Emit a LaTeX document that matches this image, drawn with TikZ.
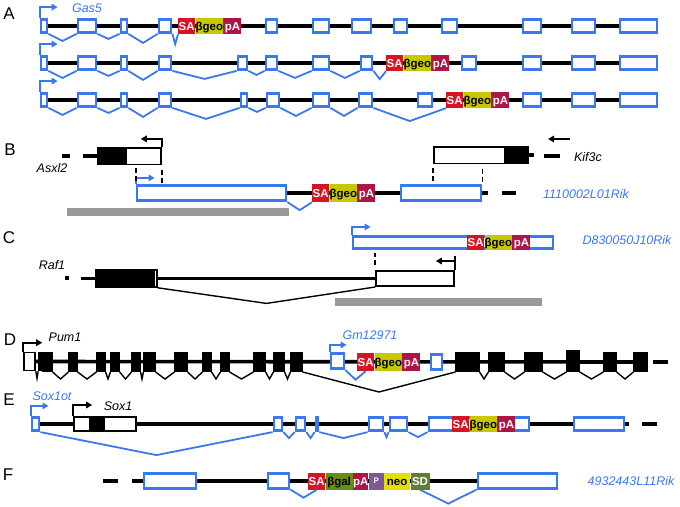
\documentclass[tikz,border=0pt]{standalone}
\usepackage{fontspec}
\setmainfont{Liberation Sans}
\usetikzlibrary{positioning,calc,arrows.meta,backgrounds}

\definecolor{gblue}{RGB}{59,120,240}
\definecolor{sared}{RGB}{215,20,35}
\definecolor{geoyel}{RGB}{200,200,0}
\definecolor{pacrim}{RGB}{175,20,70}
\definecolor{galgrn}{RGB}{105,140,20}
\definecolor{ppur}{RGB}{125,90,150}
\definecolor{neoyel}{RGB}{225,225,0}
\definecolor{sdgrn}{RGB}{100,125,50}
\definecolor{bargray}{RGB}{153,153,153}

\tikzset{
  bb/.style={line width=3.6pt, black},
  bex/.style={draw=gblue, line width=2.8pt, fill=white, inner sep=0pt, minimum height=13pt},
  kex/.style={draw=black, line width=1.2pt, fill=black, inner sep=0pt},
  wex/.style={draw=black, line width=1.6pt, fill=white, inner sep=0pt},
  splice/.style={gblue, line width=1.8pt},
  ksplice/.style={black, line width=1.4pt},
  prom/.style={gblue, line width=1.8pt, -{Triangle[length=6pt, width=6.5pt]}},
  kprom/.style={prom, black},
  mapline/.style={black, line width=1.8pt, dash pattern=on 5pt off 3pt},
  endbar/.style={fill=black, inner sep=0pt, minimum height=3.6pt},
  gbar/.style={fill=bargray, inner sep=0pt, minimum height=8pt},
  cas/.style={inner sep=0pt, minimum height=16pt, text=white, text height=8.2pt, text depth=0pt, font=\bfseries\fontsize{11.5}{12}\selectfont},
  sa/.style={cas, fill=sared, minimum width=17pt},
  geo/.style={cas, fill=geoyel, text=black, minimum width=27pt},
  pa/.style={cas, fill=pacrim, minimum width=18pt},
  gal/.style={cas, fill=galgrn, text=black, minimum width=27pt},
  pp/.style={cas, fill=ppur, minimum width=15pt, text height=5.8pt, font=\bfseries\fontsize{8}{8}\selectfont},
  neo/.style={cas, fill=neoyel, text=black, minimum width=26pt},
  sd/.style={cas, fill=sdgrn, minimum width=19pt},
  gname/.style={inner sep=0pt, font=\itshape\fontsize{12.5}{13}\selectfont},
  bname/.style={gname, text=gblue},
  panel/.style={inner sep=0pt, font=\fontsize{17}{17}\selectfont}
}

\newcommand{\exon}[5][bex]{\node[#1, minimum width={(#4)-(#3)-2}] (#2) at ({((#3)+(#4))/2},#5) {}}
\newcommand{\splice}[4][splice]{\draw[#1] (#2) -- ($(#2)!.5!(#3)+(0,#4)$) -- (#3)}
\newcommand{\sageo}[4][16pt]{%
  \node[sa, minimum height=#1, anchor=west] (#2-sa) at (#3,#4) {SA};
  \node[geo, minimum height=#1, right=0pt of #2-sa] (#2-geo) {βgeo};
  \node[pa, minimum height=#1, right=0pt of #2-geo] (#2-pa) {pA}}

\begin{document}
\begin{tikzpicture}[x=1pt, y=-1pt]
\useasboundingbox (0,0) rectangle (680,506);

\node[panel] (pA) at (9,14) {A};
\node[bname] (gas5) at (87,8) {Gas5};
\foreach \n/\xa/\xb in {1/40/48, 2/77/97, 3/120/128, 4/158/172, 5/265/278, 6/312/330, 7/351/372, 8/393/408, 9/441/458, 10/522/542, 11/571/596, 12/619/658}
  \exon{a1\n}{\xa}{\xb}{26};
\sageo{r1}{178}{26};
\foreach \i/\j/\d in {1/2/7, 2/3/5, 3/4/9}
  \splice{a1\i.south east}{a1\j.south west}{\d};
\splice{a14.south east}{r1-sa.south west}{10};
\draw[prom] (a11.north west) |- ++(18,-11);

\foreach \n/\xa/\xb in {1/40/48, 2/77/97, 3/120/128, 4/158/172, 5/237/248, 6/265/278, 7/312/330, 8/360/373, 9/461/477, 10/522/542, 11/571/596, 12/619/658}
  \exon{a2\n}{\xa}{\xb}{63};
\sageo{r2}{386}{63};
\foreach \i/\j/\d in {1/2/7, 2/3/5, 3/4/9, 4/5/8, 5/6/4, 6/7/7, 7/8/7}
  \splice{a2\i.south east}{a2\j.south west}{\d};
\splice{a28.south east}{r2-sa.south west}{8};
\draw[prom] (a21.north west) |- ++(18,-11);

\foreach \n/\xa/\xb in {1/40/48, 2/77/97, 3/120/128, 4/158/172, 5/240/248, 6/266/280, 7/312/330, 8/358/373, 9/417/433, 10/522/542, 11/571/596, 12/619/658}
  \exon{a3\n}{\xa}{\xb}{100};
\sageo{r3}{446}{100};
\foreach \i/\j/\d in {1/2/7, 2/3/5, 3/4/9, 4/5/11, 5/6/4, 6/7/8, 7/8/8}
  \splice{a3\i.south east}{a3\j.south west}{\d};
\splice{a38.south east}{r3-sa.south west}{13};
\draw[prom] (a31.north west) |- ++(18,-11);

\node[panel] (pB) at (10,150) {B};
\node[endbar, minimum width=8pt] (asxd) at (66,156) {};
\exon[kex, minimum height=17pt]{asxk}{97}{125}{156};
\exon[wex, minimum height=16.6pt]{asxw}{125}{162}{156};
\draw[kprom] (asxw.north east) |- ++(-21,-8);
\node[gname] (asxl2) at (52,168) {Asxl2};
\exon[bex, minimum height=15.4pt]{rika}{136}{287}{193};
\draw[prom] (rika.north west) |- ++(19,-6);
\sageo[18pt]{b}{312}{193};
\exon[bex, minimum height=15.4pt]{rikb}{400}{482}{193};
\node[endbar, minimum width=14pt] (rikd) at (509,193) {};
\splice{rika.south east}{b-sa.south west}{8};
\node[gbar, minimum width=222pt] (bbar) at (178,212) {};
\draw[mapline] (rika.north west) ++(0,-3) -- ++(0,-14);
\draw[mapline] (asxw.south east) ++(0,5) -- ++(0,13);
\exon[wex, minimum height=16.6pt]{kifw}{433}{506}{155};
\exon[kex, minimum height=17pt]{kifk}{506}{529}{155};
\node[endbar, minimum width=16pt] (kifd) at (552,156) {};
\coordinate (kifa) at (570,139);
\draw[kprom] (kifa) -- ++(-22,0);
\draw[mapline] (kifw.south west) ++(0,4) -- ++(0,14);
\draw[mapline] (rikb.north east) ++(0,-2) -- ++(0,-14);
\node[gname] (kif3c) at (588,157) {Kif3c};
\node[bname] (rik1) at (586,194) {1110002L01Rik};

\node[panel] (pC) at (9,238) {C};
\node[gname] (raf1) at (52,265) {Raf1};
\node[endbar, minimum width=3.6pt] (rafd) at (67,278) {};
\exon[kex, minimum height=17.6pt]{rafk}{95}{153}{278.5};
\exon[wex, minimum height=17pt]{rafn}{153}{158}{278.5};
\exon[wex, minimum height=15.4pt]{rafw}{375}{455}{278.5};
\draw[kprom] (rafw.north east) |- ++(-19,-9);
\splice[ksplice]{rafn.south east}{rafw.south west}{16};
\exon[bex, minimum height=12.4pt]{rikc}{352}{554}{242.5};
\draw[prom] (rikc.north west) |- ++(19,-8);
\sageo[15pt]{c}{467}{242.5};
\node[bname] (d8300) at (627,240) {D830050J10Rik};
\draw[mapline] (rafw.north west) ++(0,-5) -- ++(0,-12);
\draw[mapline] (rafw.north east) ++(0,-9) -- ++(0,-8);
\node[gbar, minimum width=207pt] (cbar) at (438.5,302) {};

\node[panel] (pD) at (10,340) {D};
\node[gname] (pum1) at (65,337) {Pum1};
\exon[wex, minimum height=18pt]{pw1}{23}{36}{361.5};
\exon[wex, minimum height=18pt]{pw2}{38}{42}{361.5};
\draw[kprom] (pw1.north west) |- ++(19,-9);
\foreach \n/\xa/\xb in {1/42/53, 2/68/78, 3/96/106, 4/110/120, 5/131/141, 6/143/156, 7/174/188, 8/202/212, 9/220/230, 10/253/266, 11/273/285, 12/290/303}
  \exon[kex, minimum height=18.8pt]{pk\n}{\xa}{\xb}{362};
\splice[ksplice]{pw1.south east}{pw2.south west}{7};
\foreach \i/\j in {1/2, 2/3, 3/4, 4/5, 5/6, 6/7, 7/8, 8/9, 9/10, 10/11, 11/12}
  \splice[ksplice]{pk\i.south east}{pk\j.south west}{7};
\exon[bex, minimum height=15.4pt]{gm1}{330}{345}{361};
\draw[prom] (gm1.north west) |- ++(17,-7);
\node[bname] (gm12971) at (370,335) {Gm12971};
\sageo[18pt]{d}{357}{362};
\splice{gm1.south east}{d-sa.south}{9};
\exon[bex, minimum height=15.4pt]{gm2}{430}{443}{362};
\foreach \n/\xa/\xb in {1/455/480, 2/488/505, 3/524/543, 5/603/617, 6/633/648}
  \exon[kex, minimum height=18.8pt]{dk\n}{\xa}{\xb}{362};
\exon[kex, minimum height=20.8pt]{dk4}{566}{580}{361};
\splice[ksplice]{pk12.south east}{dk1.south west}{20};
\foreach \i/\j in {1/2, 2/3, 3/4, 4/5, 5/6}
  \splice[ksplice]{dk\i.south east}{dk\j.south west}{7};
\node[endbar, minimum width=15pt] (dd) at (660.5,362) {};

\node[panel] (pE) at (9,400) {E};
\node[bname] (sox1ot) at (52,396) {Sox1ot};
\node[gname] (sox1) at (118,406) {Sox1};
\exon[bex, minimum height=13.4pt]{so1}{31}{40}{424};
\draw[prom] (so1.north west) |- ++(18,-10);
\exon[wex, minimum height=14.4pt]{sx}{73}{137}{424};
\exon[kex, minimum height=14.6pt]{sxk}{89}{105}{424};
\draw[kprom] (sx.north west) |- ++(19,-11);
\foreach \n/\xa/\xb in {2/273/283, 3/295/306, 4/315/319, 5/368/384, 6/389/408, 7/428/530, 8/573/625}
  \exon[bex, minimum height=13.4pt]{so\n}{\xa}{\xb}{424};
\sageo{e}{452}{424};
\splice{so1.south east}{so2.south west}{23};
\foreach \i/\j/\d in {2/3/6, 3/4/6, 4/5/6, 5/6/5, 6/7/5}
  \splice{so\i.south east}{so\j.south west}{\d};
\node[endbar, minimum width=15pt] (ed) at (649.5,424) {};

\node[panel] (pF) at (8,475) {F};
\node[endbar, minimum width=15pt] (fd) at (110.5,481) {};
\exon[bex, minimum height=14.4pt]{f1}{143}{197}{481};
\exon[bex, minimum height=14.4pt]{f2}{267}{290}{481};
\node[sa, minimum height=17pt, anchor=west] (f-sa) at (308,481) {SA};
\node[gal, minimum height=17pt, right=0pt of f-sa] (f-gal) {βgal};
\node[pa, minimum height=17pt, minimum width=15pt, right=0pt of f-gal] (f-pa) {pA};
\node[pp, minimum height=17pt, right=0pt of f-pa] (f-p) {P};
\node[neo, minimum height=17pt, right=0pt of f-p] (f-neo) {neo};
\node[sd, minimum height=17pt, right=0pt of f-neo] (f-sd) {SD};
\exon[bex, minimum height=14.4pt]{f3}{477}{558}{481};
\splice{f2.south east}{f-sa.south}{8};
\splice{f-sd.south}{f3.south west}{14};
\node[bname] (rik4932) at (631,481) {4932443L11Rik};

\begin{scope}[on background layer]
\draw[bb] (a11.center) -- (a112.center);
\draw[bb] (a21.center) -- (a212.center);
\draw[bb] (a31.center) -- (a312.center);
\draw[bb] ($(asxk.west)+(-14,0)$) -- (asxk.center);
\draw[bb] (rika.center) -- ($(rikb.east)+(6,0)$);
\draw[bb] (kifk.center) -- ++(16,0);
\draw[bb] ($(rafk.west)+(-14,0)$) -- (rafw.center);
\draw[bb] (pw1.center) -- (dk6.center);
\draw[bb] (so1.center) -- ($(so8.east)+(4,0)$);
\draw[bb] ($(f1.west)+(-11,0)$) -- (f3.center);
\end{scope}
\end{tikzpicture}
\end{document}
